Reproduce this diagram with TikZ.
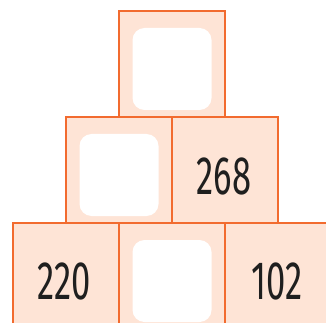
\documentclass[tikz,border=0pt]{standalone}
\usepackage{fontspec}
\setmainfont{Fira Sans}
\definecolor{pyrorange}{HTML}{F26B2F}
\definecolor{pyrpeach}{HTML}{FEE4D6}
\tikzset{
  cell/.style={draw=pyrorange, fill=pyrpeach, line width=2pt, minimum size=106pt, inner sep=0pt},
  blank/.style={fill=white, rounded corners=12pt, minimum width=79pt, minimum height=82pt, inner sep=0pt},
  num/.style={font=\fontsize{54}{54}\selectfont, xscale=0.64, inner sep=0pt, text=black!88}
}
\begin{document}
\begin{tikzpicture}[x=1pt,y=-1pt]
  \useasboundingbox (0,0) rectangle (326,323);
  \clip (0,0) rectangle (326,323);
  % Reihe unten
  \node[cell] (c31) at (66,276) {};
  \node[cell] (c32) at (172,276) {};
  \node[cell] (c33) at (278,276) {};
  % Reihe mitte
  \node[cell] (c21) at (119,170) {};
  \node[cell] (c22) at (225,170) {};
  % Spitze
  \node[cell] (c11) at (172,64) {};

  % leere Felder
  \node[blank] (e11) at (172,69) {};
  \node[blank] (e21) at (119,175) {};
  \node[blank] (e32) at (172,281) {};

  % Zahlen
  \node[num] (n268) at (224,176) {268};
  \node[num] (n220) at (64,281.5) {220};
  \node[num] (n102) at (277,281.5) {102};
\end{tikzpicture}
\end{document}
